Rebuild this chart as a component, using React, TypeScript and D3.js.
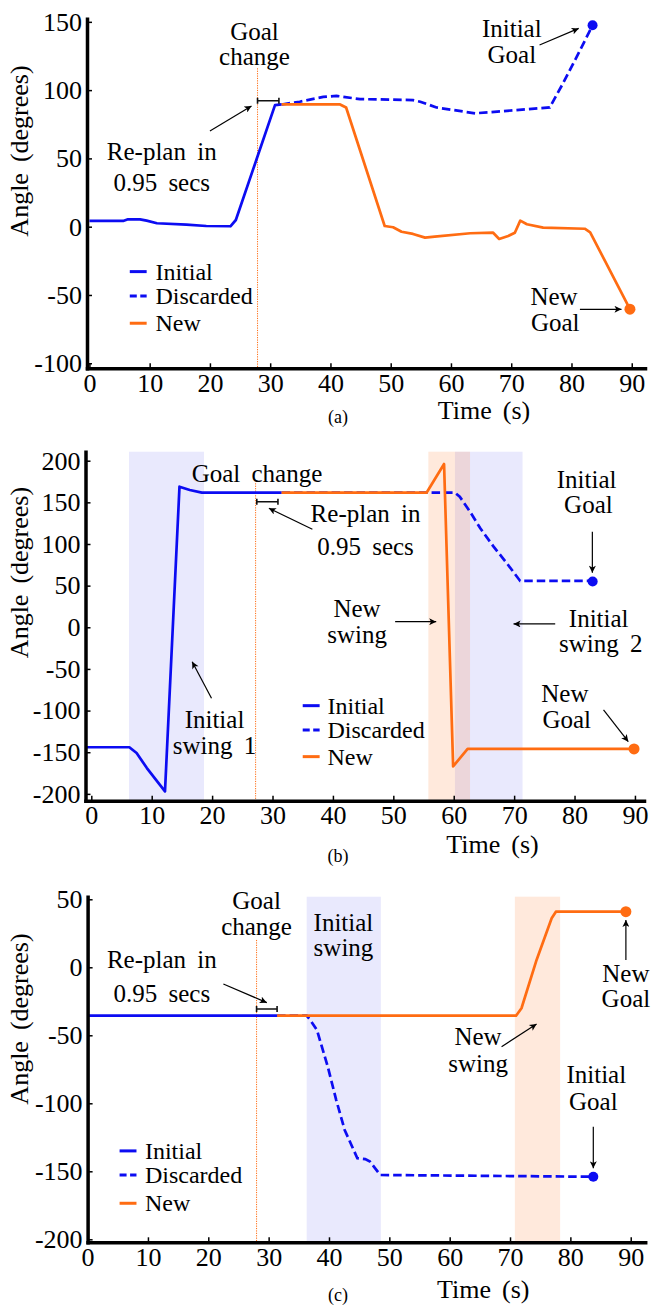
import React, { useEffect, useRef } from "react";
import * as d3 from "d3";

// ---------- panel (a) ----------
const aInitialT = [0, 5.6, 6.4, 8.4, 9.5, 11.2, 16.1, 19.4, 23.4, 24.3, 30.8, 31.9];
const aInitialV = [4.2, 4.2, 5.4, 5.4, 4.4, 2.5, 1.5, 0.5, 0.3, 4.9, 89, 89.5];
const aDiscardedT = [31.9, 34.9, 38.8, 41, 44.9, 48.2, 53.7, 54.9, 57.6, 64, 76.4, 78.6, 81.4, 83.5];
const aDiscardedV = [89.5, 91.5, 95, 95.8, 93.4, 93.2, 92.7, 91.5, 87.3, 83, 87.3, 105, 129, 147.5];
const aNewT = [31.9, 41.6, 42.6, 49, 50.4, 51.8, 53.7, 55.7, 57.3, 63.2, 67, 68, 69.5, 70.6, 71.5, 72.6, 75.3, 82.2, 83.1, 89.7];
const aNewV = [89.5, 89.5, 87.3, 0.5, -0.4, -3.7, -5.3, -8, -7.3, -4.8, -4.4, -9, -6.8, -4.4, 4.4, 1.8, -0.7, -1.5, -4.1, -60.4];
const aInitialGoal: [number, number] = [83.5, 147.5];
const aNewGoal: [number, number] = [89.7, -60.4];
const aYTicks = [-100, -50, 0, 50, 100, 150];

// ---------- panel (b) ----------
const bInitialT = [-0.9, 6.3, 7.5, 9.2, 12.2, 14.6, 16.3, 18.3, 31.5];
const bInitialV = [-144, -144, -151, -169, -197, 168.8, 164.8, 161.6, 161.6];
const bDiscardedT = [31.5, 60.2, 61, 62.7, 64.4, 66.6, 68.8, 71, 83];
const bDiscardedV = [161.6, 161.6, 156.8, 138.8, 118.8, 96.8, 76.8, 55.6, 55.6];
const bNewT = [31.5, 55.5, 58.4, 59.9, 62.3, 89.85];
const bNewV = [161.6, 161.6, 196, -167, -146, -146];
const bInitialGoal: [number, number] = [83, 55];
const bNewGoal: [number, number] = [89.85, -146];
const bYTicks = [-200, -150, -100, -50, 0, 50, 100, 150, 200];

// ---------- panel (c) ----------
const cInitialT = [0, 31.4];
const cInitialV = [-35.6, -35.6];
const cDiscardedT = [31.4, 36.3, 36.9, 38, 39.8, 41.2, 42.6, 44.7, 46, 46.8, 48.5, 83.8];
const cDiscardedV = [-35.6, -35.6, -38.8, -46.1, -73.1, -97.6, -119.6, -140.4, -141, -142.9, -152.7, -154];
const cNewT = [31.4, 71, 71.9, 74.4, 76.9, 77.6, 89.2];
const cNewV = [-35.6, -35.6, -30.1, 5.4, 36, 40.9, 40.9];
const cInitialGoal: [number, number] = [83.8, -154];
const cNewGoal: [number, number] = [89.2, 40.9];
const cYTicks = [-200, -150, -100, -50, 0, 50];

const xTicks = [0, 10, 20, 30, 40, 50, 60, 70, 80, 90];
const legendNames = ["Initial", "Discarded", "New"];

const FONT = "Liberation Serif, Times New Roman, Times, serif";
const BLUE = "#0c0cf2";
const ORANGE = "#ff6c12";
const FS = 26;

type Pt = [number, number];
interface Label { text: string; at: Pt }
interface Shade { from: number; to: number; kind: "initial" | "new" }
interface Panel {
  xDomain: Pt; xRange: Pt; yDomain: Pt; yRange: Pt; yTicks: number[];
  initial: [number[], number[]]; discarded: [number[], number[]]; fresh: [number[], number[]];
  initialGoal: Pt; newGoal: Pt;
  shades: Shade[];
  goalChange: { t: number; vTop: number };
  bracket: { t0: number; t1: number; v: number };
  labels: Label[];
  arrows: [Pt, Pt][];
  legend: { t0: number; t1: number; tText: number; v: number[] };
  timeLabel: Pt; angleLabel: Pt; caption: { text: string; at: Pt };
}

const panels: Panel[] = [
  {
    xDomain: [-0.4, 92.2], xRange: [87, 645], yDomain: [152.3, -103.7], yRange: [18.7, 368.3], yTicks: aYTicks,
    initial: [aInitialT, aInitialV], discarded: [aDiscardedT, aDiscardedV], fresh: [aNewT, aNewV],
    initialGoal: aInitialGoal, newGoal: aNewGoal,
    shades: [],
    goalChange: { t: 27.9, vTop: 116 },
    bracket: { t0: 27.9, t1: 31.45, v: 92.2 },
    labels: [
      { text: "Goal", at: [27.4, 142.8] }, { text: "change", at: [27.4, 124.4] },
      { text: "Re-plan in", at: [12.0, 54.9] }, { text: "0.95 secs", at: [12.0, 32.2] },
      { text: "Initial", at: [70.1, 145.2] }, { text: "Goal", at: [70.1, 125.7] },
      { text: "New", at: [77.1, -51.2] }, { text: "Goal", at: [77.3, -70.7] },
    ],
    arrows: [
      [[20.0, 70.1], [26.9, 88.4]],
      [[74.7, 133], [81.2, 145.2]],
      [[81.4, -60.5], [88.3, -60.5]],
    ],
    legend: { t0: 6.7, t1: 9.5, tText: 10.95, v: [-32.9, -50.7, -70.7] },
    timeLabel: [484, 410], angleLabel: [19, 151], caption: { text: "(a)", at: [338, 417] },
  },
  {
    xDomain: [-0.96, 91.5], xRange: [85.5, 644], yDomain: [210.8, -208.2], yRange: [451.7, 800.7], yTicks: bYTicks,
    initial: [bInitialT, bInitialV], discarded: [bDiscardedT, bDiscardedV], fresh: [bNewT, bNewV],
    initialGoal: bInitialGoal, newGoal: bNewGoal,
    shades: [
      { from: 6.24, to: 18.66, kind: "initial" },
      { from: 60.2, to: 71.4, kind: "initial" },
      { from: 55.8, to: 62.7, kind: "new" },
    ],
    goalChange: { t: 27.2, vTop: 172.9 },
    bracket: { t0: 27.4, t1: 30.9, v: 150.8 },
    labels: [
      { text: "Goal change", at: [27.43, 184.9] },
      { text: "Re-plan in", at: [45.4, 136] }, { text: "0.95 secs", at: [45.4, 96.8] },
      { text: "Initial", at: [82.0, 177.7] }, { text: "Goal", at: [82.3, 146.8] },
      { text: "New", at: [44, 22.8] }, { text: "swing", at: [44, -9.2] },
      { text: "Initial", at: [84.0, 10.8] }, { text: "swing 2", at: [84.35, -20] },
      { text: "Initial", at: [20.4, -111.3] }, { text: "swing 1", at: [20.4, -142.5] },
      { text: "New", at: [78.4, -79.2] }, { text: "Goal", at: [78.7, -111.3] },
    ],
    arrows: [
      [[36.6, 117.6], [29.4, 142.9]],
      [[82.95, 114.8], [82.95, 65.5]],
      [[50.3, 6.7], [57.1, 6.7]],
      [[76.8, 4], [69.9, 4]],
      [[19.9, -85.2], [16.7, -41.3]],
      [[84.8, -99.3], [88.9, -137.3]],
    ],
    legend: { t0: 35, t1: 37.8, tText: 39.1, v: [-94.1, -123.3, -155.3] },
    timeLabel: [492.5, 844], angleLabel: [19, 572.5], caption: { text: "(b)", at: [338, 856] },
  },
  {
    xDomain: [0, 92.4], xRange: [87.6, 645.2], yDomain: [51.9, -202.2], yRange: [896.7, 1242.3], yTicks: cYTicks,
    initial: [cInitialT, cInitialV], discarded: [cDiscardedT, cDiscardedV], fresh: [cNewT, cNewV],
    initialGoal: cInitialGoal, newGoal: cNewGoal,
    shades: [
      { from: 36.3, to: 48.6, kind: "initial" },
      { from: 70.8, to: 78.3, kind: "new" },
    ],
    goalChange: { t: 28, vTop: 20.1 },
    bracket: { t0: 28, t1: 31.4, v: -30.7 },
    labels: [
      { text: "Goal", at: [28, 49] }, { text: "change", at: [28, 29.9] },
      { text: "Re-plan in", at: [12.3, 5.4] }, { text: "0.95 secs", at: [12.3, -19.1] },
      { text: "Initial", at: [42.4, 32.8] }, { text: "swing", at: [42.4, 14] },
      { text: "New", at: [64.7, -51] }, { text: "swing", at: [64.7, -70.6] },
      { text: "New", at: [89.2, -4.4] }, { text: "Goal", at: [89.2, -22.8] },
      { text: "Initial", at: [84.3, -79.2] }, { text: "Goal", at: [83.8, -98.8] },
    ],
    arrows: [
      [[22.5, -12.3], [29.7, -26]],
      [[68.6, -58.4], [74.4, -41.7]],
      [[89.2, 5.4], [89.2, 34.8]],
      [[83.8, -117.2], [83.8, -147.8]],
    ],
    legend: { t0: 5.3, t1: 8.1, tText: 9.5, v: [-135, -152.7, -173.5] },
    timeLabel: [483.3, 1289], angleLabel: [19, 1019], caption: { text: "(c)", at: [338, 1295] },
  },
];

type Sel = d3.Selection<any, unknown, null, undefined>;

// serif text helper: font set through style so it wins over attributes from d3.axis
const styleText = (t: Sel, size: number) =>
  t.style("font-family", FONT).style("font-size", `${size}px`).attr("fill", "#000");

function drawPanel(root: Sel, p: Panel) {
  const x = d3.scaleLinear().domain(p.xDomain).range(p.xRange);
  const y = d3.scaleLinear().domain(p.yDomain).range(p.yRange);
  const [yTop, yBottom] = p.yRange;
  const g = root.append("g");

  // swing shading
  p.shades.forEach(s => {
    g.append("rect")
      .attr("x", x(s.from)).attr("width", x(s.to) - x(s.from))
      .attr("y", yTop).attr("height", yBottom - yTop)
      .attr("fill", s.kind === "initial" ? "#0000e6" : "#ff6e14")
      .attr("fill-opacity", s.kind === "initial" ? 0.085 : 0.15);
  });

  // goal change marker
  g.append("line")
    .attr("x1", x(p.goalChange.t)).attr("x2", x(p.goalChange.t))
    .attr("y1", y(p.goalChange.vTop)).attr("y2", yBottom)
    .attr("stroke", ORANGE).attr("stroke-width", 1).attr("stroke-dasharray", "1.2 1.2");

  const line = (s: [number[], number[]]) =>
    d3.line<number>().x((d) => x(d)).y((_, i) => y(s[1][i]))(s[0]);

  g.append("path").attr("d", line(p.discarded)).attr("fill", "none")
    .attr("stroke", BLUE).attr("stroke-width", 2.7).attr("stroke-dasharray", "8.5 4");
  g.append("path").attr("d", line(p.initial)).attr("fill", "none")
    .attr("stroke", BLUE).attr("stroke-width", 2.7).attr("stroke-linejoin", "round");
  g.append("path").attr("d", line(p.fresh)).attr("fill", "none")
    .attr("stroke", ORANGE).attr("stroke-width", 2.7).attr("stroke-linejoin", "round");

  g.append("circle").attr("cx", x(p.initialGoal[0])).attr("cy", y(p.initialGoal[1])).attr("r", 5).attr("fill", BLUE);
  g.append("circle").attr("cx", x(p.newGoal[0])).attr("cy", y(p.newGoal[1])).attr("r", 5.5).attr("fill", ORANGE);

  // re-plan bracket
  const by = y(p.bracket.v);
  g.append("path")
    .attr("d", `M${x(p.bracket.t0)},${by}H${x(p.bracket.t1)}M${x(p.bracket.t0)},${by - 3}V${by + 3}M${x(p.bracket.t1)},${by - 3}V${by + 3}`)
    .attr("stroke", "#111").attr("stroke-width", 1.6).attr("fill", "none");

  // annotation arrows
  p.arrows.forEach(([a, b]) => {
    g.append("line")
      .attr("x1", x(a[0])).attr("y1", y(a[1])).attr("x2", x(b[0])).attr("y2", y(b[1]))
      .attr("stroke", "#000").attr("stroke-width", 1.2).attr("marker-end", "url(#arrowHead)");
  });

  // annotation text (two-line labels sit close, as in the original)
  p.labels.forEach(l => {
    styleText(g.append("text").text(l.text), 25)
      .attr("x", x(l.at[0])).attr("y", y(l.at[1])).attr("dy", "0.33em")
      .attr("text-anchor", "middle").style("word-spacing", "5px");
  });

  // legend
  legendNames.forEach((name, i) => {
    const ly = y(p.legend.v[i]);
    g.append("line")
      .attr("x1", x(p.legend.t0)).attr("x2", x(p.legend.t1)).attr("y1", ly).attr("y2", ly)
      .attr("stroke", i === 2 ? ORANGE : BLUE).attr("stroke-width", 3)
      .attr("stroke-dasharray", i === 1 ? "7 3.5" : null);
    styleText(g.append("text").text(name), 24)
      .attr("x", x(p.legend.tText)).attr("y", ly).attr("dy", "0.33em");
  });

  // axes
  const yAxis = d3.axisLeft(y).tickValues(p.yTicks).tickSizeInner(-5).tickSizeOuter(0)
    .tickPadding(5).tickFormat((d) => String(d));
  const xAxis = d3.axisBottom(x).tickValues(xTicks).tickSizeInner(-5).tickSizeOuter(0)
    .tickPadding(5.2).tickFormat((d) => String(d));

  [g.append("g").attr("transform", `translate(${p.xRange[0]},0)`).call(yAxis),
   g.append("g").attr("transform", `translate(0,${yBottom})`).call(xAxis)].forEach(ax => {
    ax.select(".domain").attr("stroke-width", 3.5).attr("stroke-linecap", "square").attr("stroke", "#000");
    ax.selectAll(".tick line").attr("stroke-width", 1.5).attr("stroke", "#000");
    styleText(ax.selectAll(".tick text"), FS);
  });

  styleText(g.append("text").text("Time (s)"), FS)
    .attr("x", p.timeLabel[0]).attr("y", p.timeLabel[1]).attr("dy", "0.33em")
    .attr("text-anchor", "middle").style("word-spacing", "4.5px");
  styleText(g.append("text").text("Angle (degrees)"), FS)
    .attr("transform", `translate(${p.angleLabel[0]},${p.angleLabel[1]}) rotate(-90)`)
    .attr("dy", "0.33em").attr("text-anchor", "middle").style("word-spacing", "4.5px");
  styleText(g.append("text").text(p.caption.text), 18)
    .attr("x", p.caption.at[0]).attr("y", p.caption.at[1]).attr("dy", "0.33em")
    .attr("text-anchor", "middle");
}

const App: React.FC = () => {
  const ref = useRef<SVGSVGElement | null>(null);

  useEffect(() => {
    if (!ref.current) return;
    const svg = d3.select(ref.current);
    svg.selectAll("*").remove();
    svg.append("defs").append("marker")
      .attr("id", "arrowHead").attr("viewBox", "0 0 10 10")
      .attr("refX", 10).attr("refY", 5)
      .attr("markerWidth", 9).attr("markerHeight", 7)
      .attr("markerUnits", "userSpaceOnUse").attr("orient", "auto")
      .append("path").attr("d", "M0,0L10,5L0,10L2.5,5Z").attr("fill", "#000");
    panels.forEach(p => drawPanel(svg as Sel, p));
  }, []);

  return (
    <div style={{ position: "absolute", left: 0, top: 0 }}>
      <svg ref={ref} width={657} height={1307} style={{ display: "block", background: "#fff" }} />
    </div>
  );
};

export default App;
